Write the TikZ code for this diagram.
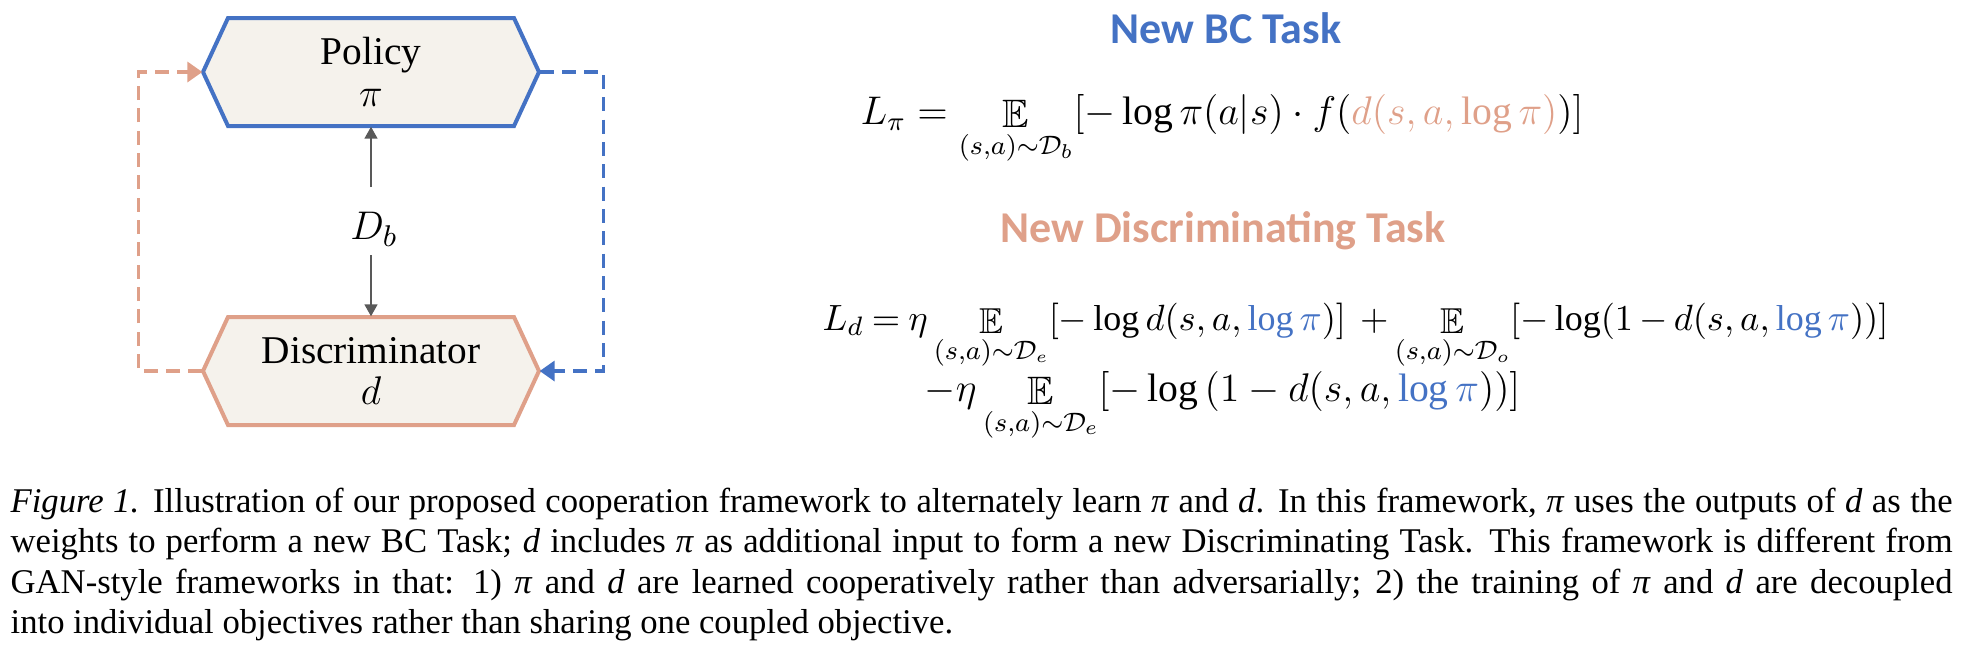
\documentclass[tikz,border=0pt]{standalone}
\usepackage{amsmath,amssymb}
\usepackage{fontspec}
\setmainfont{Liberation Serif}
\newfontfamily\carlito{Carlito}
\usetikzlibrary{arrows.meta}
\definecolor{pblue}{HTML}{4472C4}
\definecolor{dsalmon}{HTML}{DFA089}
\definecolor{boxfill}{HTML}{F5F2EC}
\definecolor{agray}{HTML}{595959}
\newcommand{\EE}[1]{\mathop{\mathbb{E}}\limits_{(s{,}a)\sim\mathcal{D}_{#1}}}
\newcommand{\tightspacing}{\thickmuskip=4mu plus 2mu\relax\medmuskip=3mu plus 1mu\relax}
\tikzset{
  hexbox/.style={fill=boxfill, line width=1.2pt, line join=miter},
  boxtext/.style={inner sep=0pt, minimum width=100.8pt, minimum height=32.4pt, align=center, font=\fontsize{11.8}{13.5}\selectfont},
  grayarrow/.style={draw=agray, line width=0.75pt, -{Triangle[length=3.6pt,width=3.8pt]}},
  bluedash/.style={draw=pblue, line width=1.05pt, dash pattern=on 4.2pt off 2.5pt, -{Triangle[length=4.5pt,width=6pt,fill=pblue]}},
  salmondash/.style={draw=dsalmon, line width=1.05pt, dash pattern=on 4.2pt off 2.5pt, -{Triangle[length=4.5pt,width=6pt,fill=dsalmon]}},
  eqn/.style={inner sep=0pt, anchor=base west, font=\fontsize{11.9}{14}\selectfont},
  eqntight/.style={inner sep=0pt, anchor=base west, font=\fontsize{10.8}{14}\selectfont},
  titletext/.style={inner sep=0pt, anchor=base, font=\carlito\bfseries\fontsize{13.2}{15}\selectfont}
}
\begin{document}
\begin{tikzpicture}[x=0.3pt,y=-0.3pt]
\useasboundingbox (0,0) rectangle (1966,656);
% hexagons
\draw[hexbox, draw=pblue] (203,72) -- (228,18) -- (514,18) -- (539,72) -- (514,126) -- (228,126) -- cycle;
\draw[hexbox, draw=dsalmon] (203,371) -- (228,317) -- (514,317) -- (539,371) -- (514,425) -- (228,425) -- cycle;
\node[boxtext] (policy) at (371,72) {Policy\\[-1pt] $\pi$};
\node[boxtext] (disc) at (371,371) {Discriminator\\[-1pt] $d$};
% D_b
\node[inner sep=0pt, font=\fontsize{12.6}{14}\selectfont] (db) at (374,229) {$D_b$};
\coordinate (dbtop) at (371,187);
\coordinate (dbbot) at (371,255);
\draw[grayarrow] (dbtop) -- (policy.south);
\draw[grayarrow] (dbbot) -- (disc.north);
% feedback loops
\draw[salmondash] (disc.west) -- ++(-64,0) |- (policy.west);
\draw[bluedash] (policy.east) -- ++(64,0) |- (disc.east);
% titles
\node[titletext, text=pblue] (titlebc) at (1226,43) {New BC Task};
\node[titletext, text=dsalmon] (titled) at (1223,242) {New Discriminating Task};
% equations
\node[eqn] (eqpi) at (860,124) {$L_\pi = \EE{b}[-\log\pi(a|s)\cdot f(\textcolor{dsalmon}{d(s,a,\log\pi)})]$};
\node[eqntight] (eqda) at (822,330) {$\tightspacing L_d = \eta \EE{e}[-\log d(s,a,\textcolor{pblue}{\log\pi})]\; + \EE{o}[-\log(1-d(s,a,\textcolor{pblue}{\log\pi}))]$};
\node[eqn] (eqdb) at (924,401) {$-\eta\EE{e}[-\log\,(1-d(s,a,\textcolor{pblue}{\log\pi}))]$};
% caption
\node[inner sep=0pt, anchor=base west] (caption) at (10,512) {\parbox[t]{582.6pt}{\fontsize{10.4}{12.15}\selectfont\parindent0pt
\textit{Figure 1.} Illustration of our proposed cooperation framework to alternately learn \textit{π} and \textit{d}. In this framework, \textit{π} uses the outputs of \textit{d} as the\linebreak
weights to perform a new BC Task; \textit{d} includes \textit{π} as additional input to form a new Discriminating Task. This framework is different from\linebreak
GAN-style frameworks in that: 1) \textit{π} and \textit{d} are learned cooperatively rather than adversarially; 2) the training of \textit{π} and \textit{d} are decoupled\linebreak
into individual objectives rather than sharing one coupled objective.}};
\end{tikzpicture}
\end{document}
